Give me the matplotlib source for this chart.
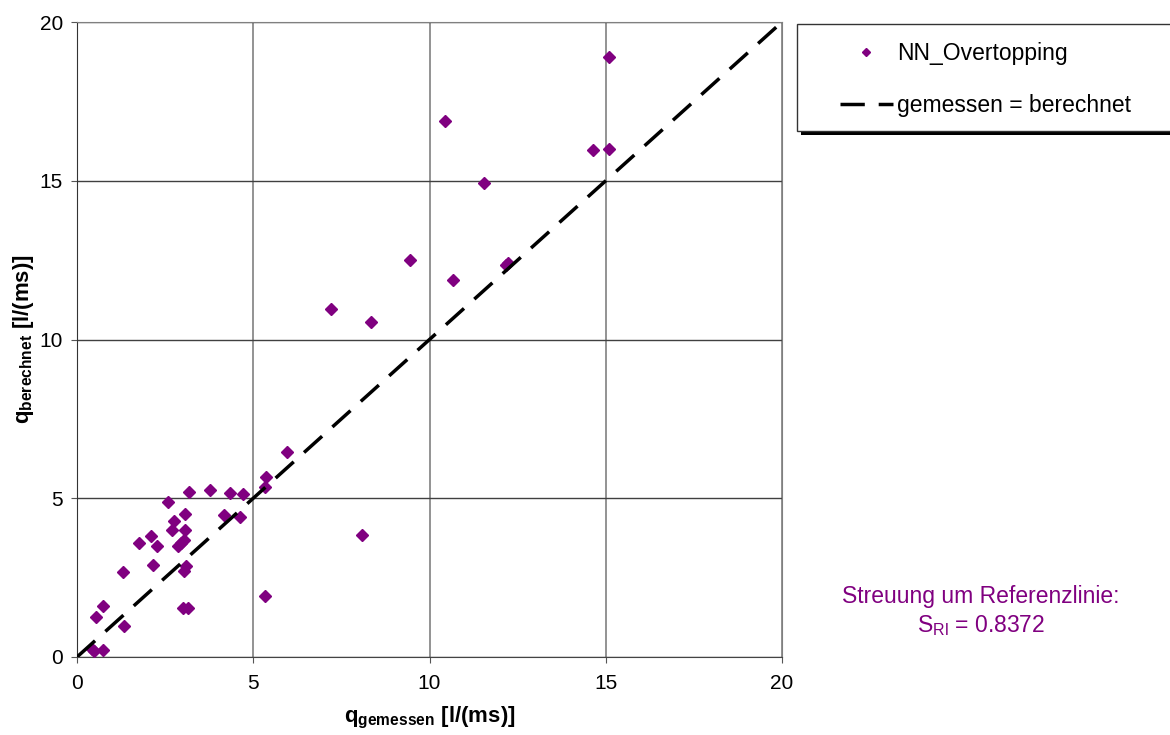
import matplotlib.pyplot as plt
from matplotlib.patches import Rectangle

plt.rcParams['font.family'] = ['Liberation Sans', 'DejaVu Sans']
plt.rcParams['mathtext.fontset'] = 'custom'
plt.rcParams['mathtext.rm'] = 'Liberation Sans'
plt.rcParams['mathtext.bf'] = 'Liberation Sans:bold'

# Data
q_gemessen = [5.96, 5.35, 5.32, 3.19, 3.78, 4.33, 4.70, 2.58, 3.05, 4.16,
              4.62, 2.74, 2.70, 3.05, 2.10, 1.77, 2.28, 3.04, 2.96, 2.87,
              2.17, 3.10, 3.04, 1.30, 5.34, 0.74, 0.53, 3.00, 3.15, 1.32,
              0.43, 0.48, 0.75, 15.10, 10.44, 14.65, 15.08, 11.55, 9.46, 10.66,
              12.17, 12.22, 7.21, 8.34, 8.09]
q_berechnet = [6.47, 5.66, 5.36, 5.20, 5.27, 5.18, 5.13, 4.89, 4.49, 4.48,
               4.42, 4.27, 3.99, 4.00, 3.82, 3.60, 3.51, 3.69, 3.60, 3.51,
               2.89, 2.88, 2.71, 2.67, 1.93, 1.62, 1.25, 1.54, 1.54, 0.98,
               0.24, 0.19, 0.22, 18.89, 16.88, 15.97, 16.00, 14.92, 12.49, 11.87,
               12.35, 12.40, 10.96, 10.55, 3.84]
ref_line = [0, 20]

W, H = 1170, 735
fig = plt.figure(figsize=(11.7, 7.35), dpi=100)
ax = fig.add_axes([77 / W, 78 / H, 705 / W, 635 / H])

ax.plot(q_gemessen, q_berechnet, 'D', color='#800080', markersize=6.5,
        linestyle='none', label='NN_Overtopping', zorder=3)
ax.plot(ref_line, ref_line, color='black', linewidth=2.5,
        dashes=(7, 4), label='gemessen = berechnet', zorder=4)

ax.set_xlim(0, 20)
ax.set_ylim(0, 20)
ax.set_xticks([0, 5, 10, 15, 20])
ax.set_yticks([0, 5, 10, 15, 20])
ax.tick_params(labelsize=15, length=4, direction='out', color='#555555')
ax.tick_params(axis='x', pad=8)
ax.tick_params(axis='y', pad=6)
ax.xaxis.grid(True, color='#808080', linewidth=1.2)
ax.yaxis.grid(True, color='#404040', linewidth=1)
for s in ax.spines.values():
    s.set_color('#808080')
ax.spines['left'].set_color('#333333')
ax.spines['bottom'].set_color('#444444')

ax.set_xlabel(r'$\mathbf{q_{gemessen}}$ [l/(ms)]', fontsize=16,
              fontweight='bold', labelpad=9)
ax.set_ylabel(r'$\mathbf{q_{berechnet}}$ [l/(ms)]', fontsize=16,
              fontweight='bold', labelpad=3)

# legend box with shadow (runs off the right edge like the original)
fig.patches.append(Rectangle((801 / W, 1 - 135 / H), 380 / W, 107 / H,
                             transform=fig.transFigure, facecolor='black',
                             edgecolor='none', zorder=1))
fig.patches.append(Rectangle((797 / W, 1 - 131 / H), 380 / W, 107 / H,
                             transform=fig.transFigure, facecolor='white',
                             edgecolor='#333333', linewidth=1, zorder=2))
leg = fig.legend(loc='upper left', bbox_to_anchor=(840 / W, 1 - 42 / H),
                 fontsize=16.5, frameon=False, borderpad=0,
                 labelspacing=1.26, handlelength=2.3, handletextpad=0.2,
                 borderaxespad=0, markerscale=0.6)
leg.set_zorder(5)

fig.text(981 / W, 1 - 597 / H, 'Streuung um Referenzlinie:',
         color='#800080', fontsize=16.5, ha='center', va='center')
fig.text(981 / W, 1 - 626 / H, r'S$_{\mathrm{Rl}}$ = 0.8372',
         color='#800080', fontsize=16.5, ha='center', va='center')

plt.savefig('out.png', dpi=100)
